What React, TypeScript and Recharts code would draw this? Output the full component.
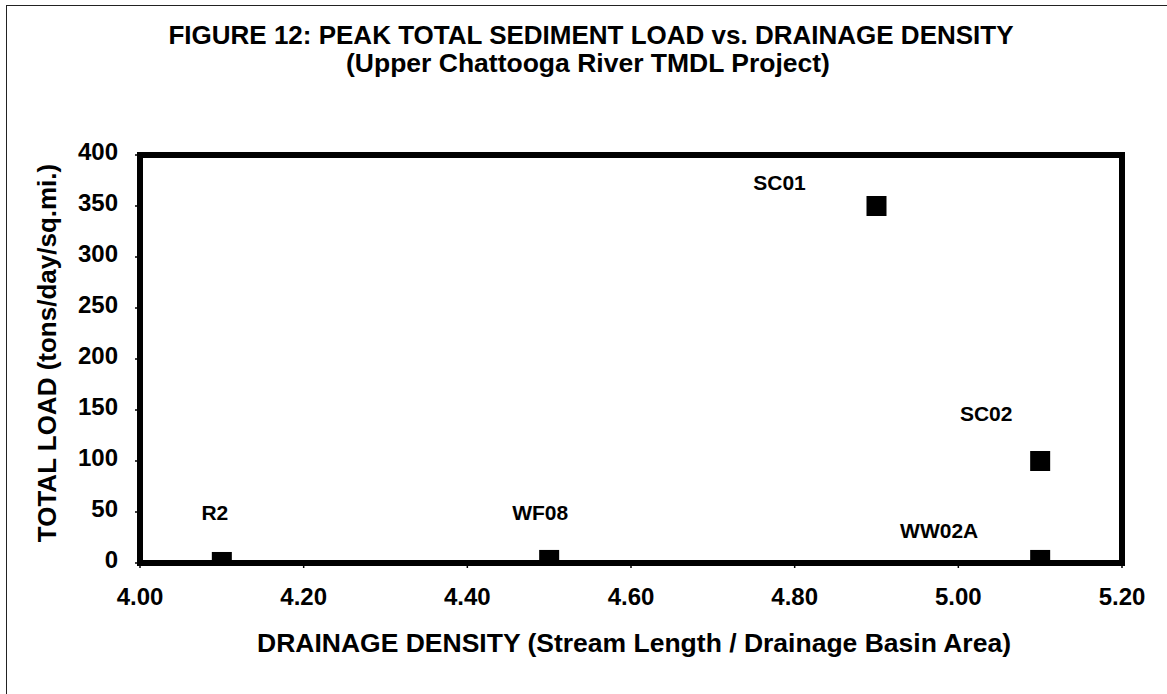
import React from 'react';
import { ScatterChart, Scatter, XAxis, YAxis, ReferenceArea } from 'recharts';

// sampling sites
const siteNames = ['R2', 'WF08', 'SC01', 'SC02', 'WW02A'];
const drainageDensity = [4.1, 4.5, 4.9, 5.1, 5.1];
const totalLoad = [1, 3, 350, 100, 3];

const xTicks = [4.0, 4.2, 4.4, 4.6, 4.8, 5.0, 5.2];
const yTicks = [0, 50, 100, 150, 200, 250, 300, 350, 400];

// where each site label sits relative to its marker (px)
const labelOffsets: Record<string, [number, number]> = {
  R2: [-7, -50],
  WF08: [-9, -48],
  SC01: [-97, -24],
  SC02: [-54, -48],
  WW02A: [-101, -30],
};

const FONT = '"Liberation Sans", Arial, Helvetica, sans-serif';

const data = siteNames.map((name, i) => ({ name, x: drainageDensity[i], y: totalLoad[i] }));

const SiteMarker = (props: any) => {
  const { cx, cy, payload } = props;
  const [dx, dy] = labelOffsets[payload.name] || [0, -40];
  return (
    <g>
      <rect x={cx - 10} y={cy - 10} width={20} height={20} fill="#000" />
      <text
        x={cx + dx}
        y={cy + dy}
        dy="0.36em"
        textAnchor="middle"
        fontFamily={FONT}
        fontWeight="bold"
        fontSize={21}
        fill="#000"
      >
        {payload.name}
      </text>
    </g>
  );
};

const XTick = (props: any) => {
  const { x, y, payload } = props;
  return (
    <text x={x} y={y} dy="0.71em" textAnchor="middle" fontFamily={FONT} fontWeight="bold" fontSize={24} fill="#000">
      {Number(payload.value).toFixed(2)}
    </text>
  );
};

const YTick = (props: any) => {
  const { x, y, payload } = props;
  return (
    <text x={x} y={y - 4} dy="0.36em" textAnchor="end" fontFamily={FONT} fontWeight="bold" fontSize={24} fill="#000">
      {payload.value}
    </text>
  );
};

const textBlock = (left: number, top: number, width: number, size: number): React.CSSProperties => ({
  position: 'absolute',
  left,
  top,
  width,
  lineHeight: '30px',
  textAlign: 'center',
  fontWeight: 'bold',
  fontSize: size,
  color: '#000',
  whiteSpace: 'nowrap',
});

export default function App() {
  return (
    <div
      style={{
        position: 'absolute',
        left: 0,
        top: 0,
        width: 1167,
        height: 694,
        overflow: 'hidden',
        background: '#fff',
        fontFamily: FONT,
      }}
    >
      {/* chart area frame (only left/top survive in the scan) */}
      <div
        style={{
          position: 'absolute',
          left: 6,
          top: 5,
          width: 1300,
          height: 800,
          borderLeft: '1.5px solid #222',
          borderTop: '1.5px solid #222',
        }}
      />
      <div style={textBlock(91, 20, 1000, 26)}>
        FIGURE 12: PEAK TOTAL SEDIMENT LOAD vs. DRAINAGE DENSITY
      </div>
      <div style={textBlock(88, 48, 1000, 26.5)}>
        (Upper Chattooga River TMDL Project)
      </div>
      <div style={{ ...textBlock(47 - 250, 353 - 15, 500, 26), transform: 'rotate(-90deg)' }}>
        TOTAL LOAD (tons/day/sq.mi.)
      </div>
      <div style={textBlock(634 - 500, 643 - 15, 1000, 26.5)}>
        DRAINAGE DENSITY (Stream Length / Drainage Basin Area)
      </div>

      <div style={{ position: 'absolute', left: 0, top: 0 }}>
        <ScatterChart width={1167} height={694} margin={{ top: 155, right: 45, bottom: 0, left: 0 }}>
          <XAxis
            type="number"
            dataKey="x"
            domain={[4, 5.2]}
            ticks={xTicks}
            interval={0}
            height={131}
            axisLine={false}
            tickLine={{ stroke: '#000', strokeWidth: 1.5 }}
            tickSize={5}
            tickMargin={20}
            tick={<XTick />}
            allowDataOverflow
          />
          <YAxis
            type="number"
            dataKey="y"
            domain={[0, 400]}
            ticks={yTicks}
            interval={0}
            width={140}
            axisLine={false}
            tickLine={{ stroke: '#000', strokeWidth: 1.5 }}
            tickSize={5}
            tickMargin={17}
            tick={<YTick />}
            allowDataOverflow
          />
          <ReferenceArea
            x1={4}
            x2={5.2}
            y1={0}
            y2={400}
            fill="#fff"
            fillOpacity={0}
            stroke="#000"
            strokeWidth={6}
            ifOverflow="visible"
          />
          <Scatter data={data} shape={<SiteMarker />} isAnimationActive={false} />
        </ScatterChart>
      </div>
    </div>
  );
}
